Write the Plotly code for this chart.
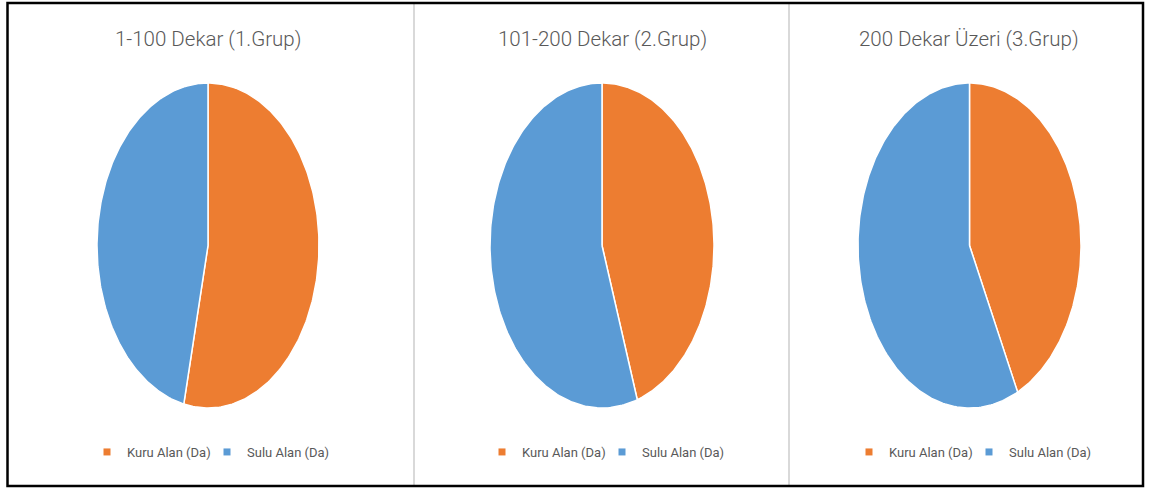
import numpy as np
import plotly.graph_objects as go

# Land-size groups and the share of dry vs irrigated land in each
groups = ["1-100 Dekar (1.Grup)", "101-200 Dekar (2.Grup)", "200 Dekar Üzeri (3.Grup)"]
categories = ["Kuru Alan (Da)", "Sulu Alan (Da)"]
kuru_alan = [53.5, 44.9, 42.9]
sulu_alan = [46.5, 55.1, 57.1]

COLORS = ["#ED7D31", "#5B9BD5"]
TEXT = "#595959"
FONT = "Roboto, Liberation Sans, sans-serif"

W, H = 1150, 488
# pixel boxes of each pie (left, right) and common (top, bottom)
pie_x = [(97, 319), (490, 714), (858, 1081)]
pie_y = (83, 408)
# left edge (px) of each legend entry, per pie: (Kuru, Sulu)
legend_x0 = [(87, 207), (482, 602), (849, 969)]
LEGEND_Y = 452


def wedge(start_frac, end_frac, n=200):
    """Closed polygon of a pie slice, clockwise from 12 o'clock, unit radius."""
    t = np.linspace(start_frac, end_frac, n) * 2 * np.pi
    x = np.concatenate([[0.0], np.sin(t), [0.0]])
    y = np.concatenate([[0.0], np.cos(t), [0.0]])
    return x, y


fig = go.Figure()
layout = dict(
    width=W, height=H,
    margin=dict(l=0, r=0, t=0, b=0),
    paper_bgcolor="white", plot_bgcolor="rgba(0,0,0,0)",
    font=dict(family=FONT, color=TEXT),
)

n_leg = 0
for i, title in enumerate(groups):
    vals = [kuru_alan[i], sulu_alan[i]]
    total = sum(vals)
    ax = "" if i == 0 else str(i + 1)
    cum = 0.0
    for cat, v, col in zip(categories, vals, COLORS):
        x, y = wedge(cum / total, (cum + v) / total)
        cum += v
        fig.add_trace(go.Scatter(
            x=x, y=y, mode="lines", fill="toself", fillcolor=col,
            line=dict(color="white", width=1.5),
            name=cat, showlegend=False, hoverinfo="name",
            xaxis="x" + ax, yaxis="y" + ax,
        ))
    # legend entries (small square swatches), one legend box per entry
    for j, (cat, col) in enumerate(zip(categories, COLORS)):
        n_leg += 1
        lname = "legend" if n_leg == 1 else f"legend{n_leg}"
        fig.add_trace(go.Scatter(
            x=[None], y=[None], mode="markers",
            marker=dict(symbol="square", size=7, color=col),
            name=cat, legend=lname,
            xaxis="x" + ax, yaxis="y" + ax,
        ))
        layout[lname] = dict(
            orientation="h", x=legend_x0[i][j] / W, y=1 - LEGEND_Y / H,
            xanchor="left", yanchor="middle",
            bgcolor="rgba(0,0,0,0)",
            font=dict(size=13, color=TEXT, family=FONT),
            itemwidth=30,
        )

for i, (x0, x1) in enumerate(pie_x):
    ax = "" if i == 0 else str(i + 1)
    common = dict(visible=False, fixedrange=True, range=[-1, 1],
                  showgrid=False, zeroline=False)
    layout["xaxis" + ax] = dict(common, domain=[x0 / W, x1 / W],
                                anchor="y" + ax)
    layout["yaxis" + ax] = dict(common, domain=[1 - pie_y[1] / H, 1 - pie_y[0] / H],
                                anchor="x" + ax)

fig.update_layout(**layout)

# chart titles
title_cx = [208, 602, 969]
for cx, t in zip(title_cx, groups):
    fig.add_annotation(
        text=t, x=cx / W, y=1 - 39 / H, xref="paper", yref="paper",
        xanchor="center", yanchor="middle", showarrow=False,
        font=dict(size=20.5, color=TEXT, family=FONT, weight=300),
    )

# panel separators and outer frame
for sx in (414, 789):
    fig.add_shape(type="line", xref="paper", yref="paper",
                  x0=sx / W, x1=sx / W, y0=1 - 486 / H, y1=1 - 3 / H,
                  line=dict(color="#D9D9D9", width=2))
fig.add_shape(type="rect", xref="paper", yref="paper",
              x0=7.5 / W, x1=1143 / W, y0=1 - 486 / H, y1=1 - 3 / H,
              line=dict(color="black", width=2.5))

fig.write_html("out.html")
